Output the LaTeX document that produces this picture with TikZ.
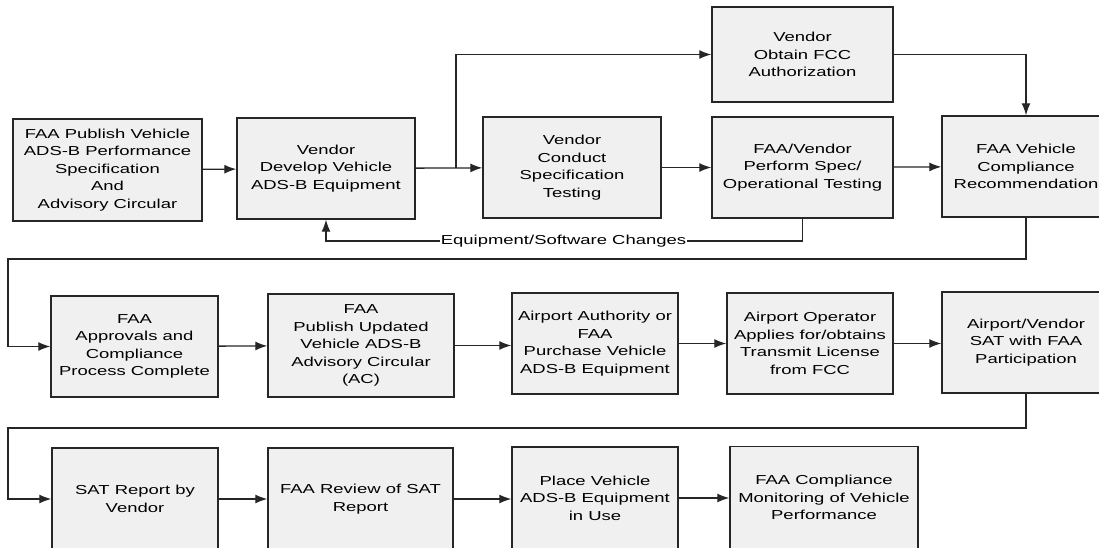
\documentclass[tikz,border=0pt]{standalone}
\usepackage{fontspec}
\setmainfont[FakeStretch=1.42]{Liberation Sans}
\usetikzlibrary{arrows.meta, positioning}

\begin{document}
\begin{tikzpicture}[
          x=1pt, y=-1pt,
          every node/.style={font=\fontsize{13}{17.5}\selectfont},
          stepbox/.style={draw=black!85, line width=1.4pt, fill=black!6,
            align=center, inner sep=0pt, minimum height=101},
          flow/.style={draw=black!85, line width=1.3pt,
            -{Latex[length=12pt, width=9pt]}},
          wire/.style={draw=black!85, line width=1.3pt}
        ]
          \useasboundingbox (0,0) rectangle (1099,548);
          % row 1
          \node[stepbox, minimum width=189, minimum height=102] (pubSpec) at (107.5,170)
            {FAA Publish Vehicle\\ADS-B Performance\\Specification\\And\\Advisory Circular};
          \node[stepbox, minimum width=178] (develop) at (326,168.5)
            {Vendor\\Develop Vehicle\\ADS-B Equipment};
          \node[stepbox, minimum width=178] (specTest) at (572,167.5)
            {Vendor\\Conduct\\Specification\\Testing};
          \node[stepbox, minimum width=181, minimum height=95] (fcc) at (802.5,54.5)
            {Vendor\\Obtain FCC\\Authorization};
          \node[stepbox, minimum width=181] (opTest) at (802.5,167.5)
            {FAA/Vendor\\Perform Spec/\\Operational Testing};
          \node[stepbox, minimum width=168] (recommend) at (1026,166.5)
            {FAA Vehicle\\Compliance\\Recommendation};
          % row 2
          \node[stepbox, minimum width=167] (approve) at (134.5,346.5)
            {FAA\\Approvals and\\Compliance\\Process Complete};
          \node[stepbox, minimum width=186, minimum height=103] (pubAC) at (361,345.5)
            {FAA\\Publish Updated\\Vehicle ADS-B\\Advisory Circular\\(AC)};
          \node[stepbox, minimum width=166] (purchase) at (595,343.5)
            {Airport Authority or\\FAA\\Purchase Vehicle\\ADS-B Equipment};
          \node[stepbox, minimum width=166] (license) at (810,343.5)
            {Airport Operator\\Applies for/obtains\\Transmit License\\from FCC};
          \node[stepbox, minimum width=168] (sat) at (1026,342.5)
            {Airport/Vendor\\SAT with FAA\\Participation};
          % row 3
          \node[stepbox, minimum width=166, minimum height=102] (satReport) at (135,499)
            {SAT Report by\\Vendor};
          \node[stepbox, minimum width=185, minimum height=102] (review) at (360.5,499)
            {FAA Review of SAT\\Report};
          \node[stepbox, minimum width=166, minimum height=102] (inUse) at (595,498)
            {Place Vehicle\\ADS-B Equipment\\in Use};
          \node[stepbox, minimum width=188, minimum height=102] (monitor) at (824,497.5)
            {FAA Compliance\\Monitoring of Vehicle\\Performance};

          \node[inner sep=1pt] (changes) at (563.5,241) {Equipment/Software Changes};
          \coordinate (split) at (456,168.5);
          \coordinate (wrapA) at (8,259);
          \coordinate (wrapB) at (8,428);

          \draw[flow] (pubSpec) -- (develop);
          \draw[flow] (develop) -- (specTest);
          \draw[flow] (split) |- (fcc.west);
          \draw[flow] (specTest) -- (opTest);
          \draw[flow] (opTest) -- (recommend);
          \draw[flow] (fcc.east) -| (recommend.north);
          \draw[wire] (opTest.south) |- (changes.east);
          \draw[flow] (changes.west) -| (develop.south);
          \draw[flow] (recommend.south) |- (wrapA) |- (approve.west);
          \draw[flow] (approve) -- (pubAC);
          \draw[flow] (pubAC.east) -- (purchase.west |- pubAC.east);
          \draw[flow] (purchase) -- (license);
          \draw[flow] (license.east) -- (sat.west |- license.east);
          \draw[flow] (sat.south) |- (wrapB) |- (satReport.west);
          \draw[flow] (satReport) -- (review);
          \draw[flow] (review.east) -- (inUse.west |- review.east);
          \draw[flow] (inUse.east) -- (monitor.west |- inUse.east);
        \end{tikzpicture}
\end{document}
